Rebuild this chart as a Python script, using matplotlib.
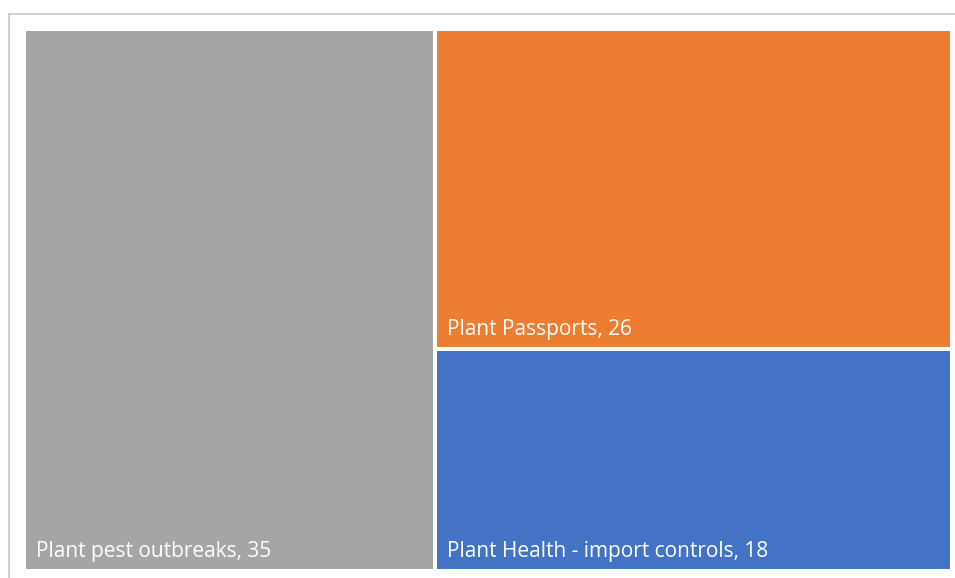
import matplotlib.pyplot as plt
from matplotlib.patches import Rectangle
from matplotlib.lines import Line2D

categories = ["Plant pest outbreaks", "Plant Passports", "Plant Health - import controls"]
values = [35, 26, 18]
colors = ["#A5A5A5", "#ED7D31", "#4472C4"]

W, H = 955, 578
fig = plt.figure(figsize=(W / 100, H / 100), dpi=100)
fig.patch.set_facecolor("white")

# outer chart frame (top and left edges only)
fig.add_artist(Line2D([8.5 / W, 1], [1 - 13.5 / H, 1 - 13.5 / H], color="#C8C8C8", lw=1.2))
fig.add_artist(Line2D([8.5 / W, 8.5 / W], [0, 1 - 13.5 / H], color="#C8C8C8", lw=1.2))

# plot area in pixels: x 24..952, y 29..571
x0, x1, y0, y1 = 24, 952, 29, 571
ax = fig.add_axes([x0 / W, 1 - y1 / H, (x1 - x0) / W, (y1 - y0) / H])
ax.set_xlim(0, 1)
ax.set_ylim(0, 1)
ax.axis("off")

# treemap layout: first item fills a column, the rest stack in the second column
total = sum(values)
w0 = values[0] / total
rest = sum(values[1:])
rects = [(0, 0, w0, 1)]
top = 1.0
for v in values[1:]:
    h = v / rest
    rects.append((w0, top - h, 1 - w0, h))
    top -= h

px = 1.0 / (x1 - x0)
py = 1.0 / (y1 - y0)
for (rx, ry, rw, rh), name, v, c in zip(rects, categories, values, colors):
    ax.add_patch(Rectangle((rx, ry), rw, rh, facecolor=c, edgecolor="white", lw=2.9))
    ax.text(rx + 12 * px, ry + 14 * py, f"{name}, {v}", color="white",
            fontsize=15, family="Open Sans", ha="left", va="baseline")

fig.savefig("out.png", dpi=100)
